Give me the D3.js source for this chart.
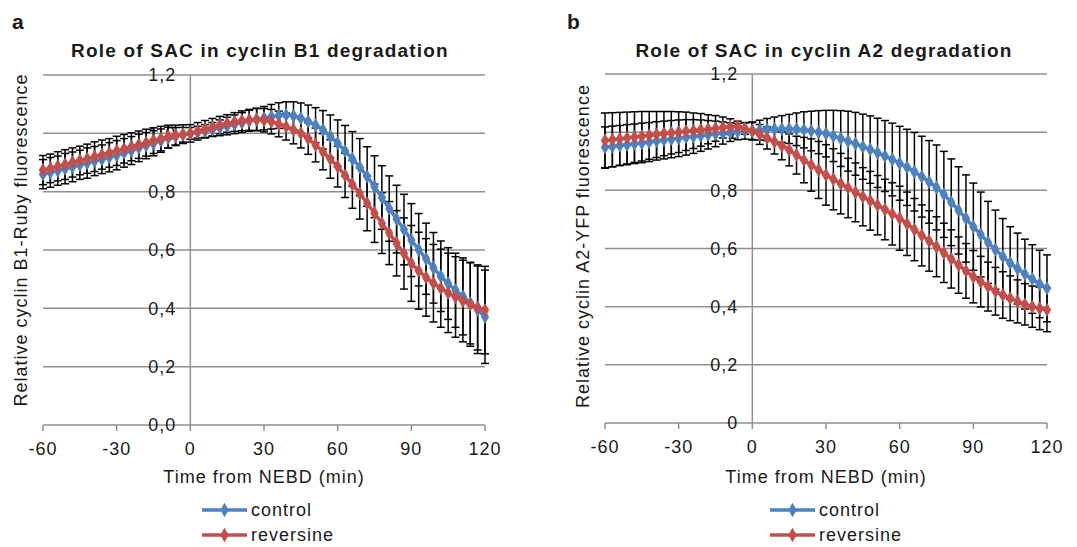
<!DOCTYPE html>
<html>
<style>
  body { margin: 0; background: #fff; }
  text { font-family: Arial, "Liberation Sans", sans-serif; fill: #1a1a1a; }
  .grid line { stroke: #8f8f8f; stroke-width: 1.5; }
  .title { font-weight: bold; font-size: 19px; letter-spacing: 1.2px; }
  .panel-label { font-weight: bold; font-size: 21px; }
  .tick-label { font-size: 18px; letter-spacing: 1px; }
  .axis-title { font-size: 18px; letter-spacing: 1px; }
</style>
<script src="https://cdnjs.cloudflare.com/ajax/libs/d3/7.8.5/d3.min.js"></script>
<svg width="1077" height="547"></svg>
<script>
// time points, every 3 min from -60 to 120
var times = d3.range(-60, 121, 3);
var xTicks = [-60, -30, 0, 30, 60, 90, 120];
var yTicks = [0, 0.2, 0.4, 0.6, 0.8, 1.0, 1.2];
var yLabelsA = ["0,0", "0,2", "0,4", "0,6", "0,8", "1,0", "1,2"];
var yLabelsB = ["0", "0,2", "0,4", "0,6", "0,8", "1", "1,2"];
var seriesNames = ["control", "reversine"];

// panel a: cyclin B1
var b1Control = [0.860,0.866,0.872,0.879,0.885,0.892,0.898,0.905,0.911,0.918,0.925,0.933,0.941,0.950,0.958,0.966,0.975,0.985,0.990,0.995,
  1.000,1.004,1.008,1.013,1.019,1.025,1.031,1.037,1.043,1.048,1.052,1.057,1.061,1.063,1.060,1.052,1.041,1.028,1.012,0.990,
  0.966,0.940,0.912,0.884,0.852,0.817,0.780,0.742,0.706,0.670,0.634,0.601,0.570,0.539,0.510,0.485,0.462,0.441,0.418,0.395,0.371];
var b1Reversine = [0.874,0.880,0.887,0.893,0.900,0.907,0.913,0.920,0.927,0.933,0.940,0.947,0.954,0.961,0.968,0.975,0.982,0.989,0.993,0.997,
  1.000,1.007,1.014,1.021,1.028,1.034,1.039,1.043,1.046,1.047,1.045,1.040,1.032,1.023,1.012,1.000,0.982,0.960,0.937,0.912,
  0.886,0.856,0.825,0.794,0.760,0.726,0.692,0.658,0.623,0.588,0.554,0.529,0.506,0.486,0.469,0.453,0.439,0.425,0.413,0.403,0.394];
var b1ControlSd = [0.050,0.051,0.050,0.052,0.051,0.050,0.052,0.050,0.049,0.050,0.050,0.049,0.048,0.047,0.045,0.043,0.040,0.036,0.030,0.025,
  0.020,0.020,0.022,0.024,0.027,0.030,0.032,0.034,0.036,0.038,0.040,0.042,0.044,0.045,0.048,0.052,0.056,0.060,0.066,0.073,
  0.080,0.087,0.094,0.098,0.102,0.106,0.109,0.112,0.116,0.121,0.125,0.124,0.122,0.121,0.121,0.123,0.127,0.132,0.140,0.150,0.160];
var b1ReversineSd = [0.050,0.049,0.050,0.051,0.050,0.049,0.050,0.051,0.050,0.049,0.050,0.049,0.048,0.047,0.046,0.044,0.042,0.039,0.035,0.032,
  0.030,0.030,0.030,0.030,0.030,0.030,0.032,0.034,0.036,0.038,0.040,0.042,0.044,0.046,0.048,0.050,0.054,0.058,0.062,0.066,
  0.070,0.076,0.082,0.088,0.094,0.100,0.104,0.108,0.112,0.122,0.130,0.132,0.133,0.133,0.134,0.136,0.138,0.140,0.143,0.146,0.150];

// panel b: cyclin A2
var a2Control = [0.948,0.951,0.954,0.957,0.960,0.963,0.966,0.970,0.973,0.976,0.979,0.982,0.985,0.988,0.991,0.994,0.997,1.000,1.002,1.004,
  1.005,1.007,1.009,1.010,1.011,1.011,1.010,1.008,1.004,1.000,0.995,0.987,0.978,0.969,0.960,0.950,0.940,0.929,0.918,0.906,
  0.893,0.879,0.864,0.847,0.829,0.810,0.786,0.759,0.731,0.703,0.675,0.648,0.621,0.596,0.572,0.550,0.531,0.512,0.495,0.478,0.463];
var a2Reversine = [0.971,0.974,0.977,0.980,0.983,0.986,0.989,0.992,0.995,0.998,1.000,1.003,1.005,1.008,1.010,1.013,1.016,1.019,1.020,1.013,
  1.003,0.992,0.980,0.967,0.953,0.939,0.921,0.904,0.887,0.870,0.853,0.838,0.823,0.808,0.793,0.778,0.764,0.749,0.734,0.719,
  0.704,0.685,0.665,0.645,0.626,0.606,0.585,0.564,0.543,0.523,0.503,0.486,0.469,0.453,0.440,0.429,0.418,0.408,0.400,0.394,0.389];
var a2ControlSd = [0.070,0.070,0.069,0.069,0.068,0.068,0.067,0.066,0.065,0.064,0.063,0.061,0.058,0.054,0.049,0.044,0.038,0.032,0.028,0.028,
  0.030,0.034,0.038,0.042,0.046,0.050,0.056,0.062,0.068,0.074,0.080,0.088,0.096,0.103,0.108,0.112,0.116,0.119,0.122,0.125,
  0.127,0.131,0.135,0.139,0.142,0.146,0.148,0.149,0.150,0.150,0.150,0.146,0.141,0.136,0.131,0.125,0.122,0.120,0.118,0.116,0.115];
var a2ReversineSd = [0.095,0.093,0.091,0.089,0.087,0.085,0.082,0.079,0.076,0.073,0.070,0.066,0.061,0.056,0.050,0.044,0.036,0.027,0.018,0.020,
  0.030,0.034,0.038,0.042,0.048,0.055,0.065,0.078,0.090,0.098,0.104,0.105,0.104,0.102,0.101,0.100,0.101,0.102,0.104,0.107,
  0.110,0.109,0.107,0.105,0.104,0.103,0.102,0.100,0.097,0.094,0.090,0.087,0.084,0.082,0.080,0.077,0.074,0.071,0.071,0.073,0.075];

var colors = ["#4f81bd", "#c0504d"];

var svg = d3.select("svg");

drawPanel({
  letter: "a", letterX: 12,
  title: "Role of SAC in cyclin B1 degradation", titleX: 260,
  yTitle: "Relative cyclin B1-Ruby fluorescence", yTitleX: 27, yTitleY: 240,
  xRange: [43, 485], yRange: [425, 75],
  yLabels: yLabelsA,
  means: [b1Control, b1Reversine], sds: [b1ControlSd, b1ReversineSd],
  legendX: 202
});

drawPanel({
  letter: "b", letterX: 567,
  title: "Role of SAC in cyclin A2 degradation", titleX: 824,
  yTitle: "Relative cyclin A2-YFP  fluorescence", yTitleX: 589, yTitleY: 246,
  xRange: [605, 1047], yRange: [423, 74],
  yLabels: yLabelsB,
  means: [a2Control, a2Reversine], sds: [a2ControlSd, a2ReversineSd],
  legendX: 770
});

function drawPanel(p) {
  var x = d3.scaleLinear().domain([-60, 120]).range(p.xRange),
      y = d3.scaleLinear().domain([0, 1.2]).range(p.yRange);

  var g = svg.append("g");

  g.append("text")
      .attr("class", "panel-label")
      .attr("x", p.letterX)
      .attr("y", 29)
      .text(p.letter);

  g.append("text")
      .attr("class", "title")
      .attr("x", p.titleX)
      .attr("y", 57)
      .attr("text-anchor", "middle")
      .text(p.title);

  // horizontal gridlines
  g.append("g")
      .attr("class", "grid")
    .selectAll("line")
      .data(yTicks)
    .enter().append("line")
      .attr("x1", x(-60))
      .attr("x2", x(120))
      .attr("y1", function(d) {return y(d)})
      .attr("y2", function(d) {return y(d)});

  // vertical axis crossing at 0
  g.append("line")
      .attr("x1", x(0)).attr("x2", x(0))
      .attr("y1", y(1.2)).attr("y2", y(0))
      .style("stroke", "#8f8f8f")
      .style("stroke-width", 1.5);

  // x ticks (downward marks)
  g.append("g")
    .selectAll("line")
      .data(xTicks)
    .enter().append("line")
      .attr("x1", function(d) {return x(d)})
      .attr("x2", function(d) {return x(d)})
      .attr("y1", y(0))
      .attr("y2", y(0) + 6)
      .style("stroke", "#8f8f8f")
      .style("stroke-width", 1.5);

  g.append("g")
    .selectAll("text")
      .data(xTicks)
    .enter().append("text")
      .attr("class", "tick-label")
      .attr("x", function(d) {return x(d)})
      .attr("y", y(0) + 30)
      .attr("text-anchor", "middle")
      .text(function(d) {return d});

  // y tick labels sit left of the zero line
  g.append("g")
    .selectAll("text")
      .data(yTicks)
    .enter().append("text")
      .attr("class", "tick-label")
      .attr("x", x(0) - 14)
      .attr("y", function(d) {return y(d)})
      .attr("dy", "0.36em")
      .attr("text-anchor", "end")
      .text(function(d, i) {return p.yLabels[i]});

  g.append("text")
      .attr("class", "axis-title")
      .attr("transform", "translate(" + p.yTitleX + "," + p.yTitleY + ") rotate(-90)")
      .attr("text-anchor", "middle")
      .text(p.yTitle);

  g.append("text")
      .attr("class", "axis-title")
      .attr("x", (p.xRange[0] + p.xRange[1]) / 2)
      .attr("y", 483)
      .attr("text-anchor", "middle")
      .text("Time from NEBD (min)");

  // error bars
  var cap = 4;
  p.means.forEach(function(m, s) {
    var bars = g.append("g")
        .style("stroke", "#000")
        .style("stroke-width", 1.5)
      .selectAll("g")
        .data(times)
      .enter().append("g");

    bars.append("line")
        .attr("x1", function(d) {return x(d)})
        .attr("x2", function(d) {return x(d)})
        .attr("y1", function(d, i) {return y(m[i] + p.sds[s][i])})
        .attr("y2", function(d, i) {return y(m[i] - p.sds[s][i])});
    bars.append("line")
        .attr("x1", function(d) {return x(d) - cap})
        .attr("x2", function(d) {return x(d) + cap})
        .attr("y1", function(d, i) {return y(m[i] + p.sds[s][i])})
        .attr("y2", function(d, i) {return y(m[i] + p.sds[s][i])});
    bars.append("line")
        .attr("x1", function(d) {return x(d) - cap})
        .attr("x2", function(d) {return x(d) + cap})
        .attr("y1", function(d, i) {return y(m[i] - p.sds[s][i])})
        .attr("y2", function(d, i) {return y(m[i] - p.sds[s][i])});
  });

  // series lines with diamond markers
  var line = d3.line()
      .curve(d3.curveMonotoneX)
      .x(function(d, i) {return x(times[i])})
      .y(function(d) {return y(d)});

  var diamond = d3.symbol().type(d3.symbolDiamond).size(60);

  p.means.forEach(function(m, s) {
    g.append("path")
        .datum(m)
        .attr("d", line)
        .style("fill", "none")
        .style("stroke", colors[s])
        .style("stroke-width", 3.5);

    g.append("g")
      .selectAll("path")
        .data(m)
      .enter().append("path")
        .attr("d", diamond)
        .attr("transform", function(d, i) {return "translate(" + x(times[i]) + "," + y(d) + ")"})
        .style("fill", colors[s]);
  });

  // legend
  var legend = g.append("g")
    .selectAll("g")
      .data(seriesNames)
    .enter().append("g")
      .attr("transform", function(d, i) {return "translate(" + p.legendX + "," + (510 + i * 25) + ")"});

  legend.append("line")
      .attr("x1", 0).attr("x2", 45)
      .style("stroke", function(d, i) {return colors[i]})
      .style("stroke-width", 3.5);
  legend.append("path")
      .attr("d", diamond)
      .attr("transform", "translate(22.5,0)")
      .style("fill", function(d, i) {return colors[i]});
  legend.append("text")
      .attr("class", "axis-title")
      .attr("x", 49)
      .attr("dy", "0.33em")
      .text(function(d) {return d});
}
</script>
</html>
